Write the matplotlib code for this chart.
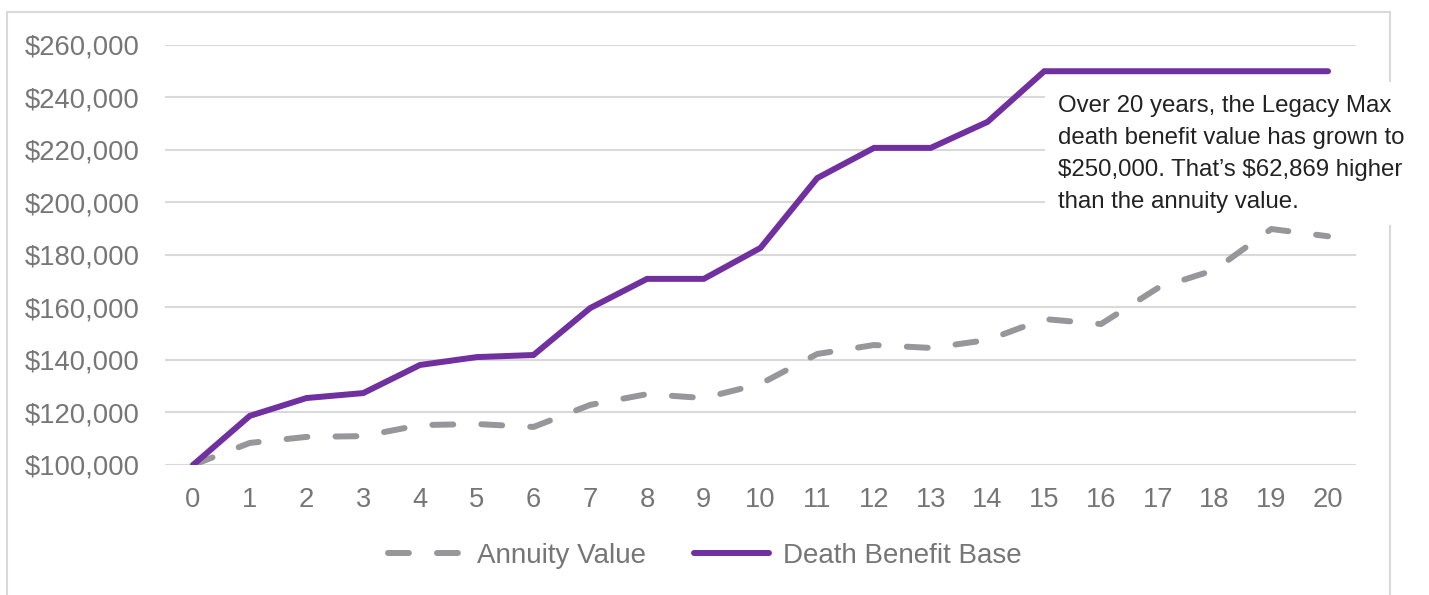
import matplotlib.pyplot as plt
from matplotlib.patches import Rectangle
from matplotlib.ticker import FuncFormatter

plt.rcParams['font.family'] = ['Liberation Sans', 'DejaVu Sans']
plt.rcParams['text.parse_math'] = False

years = list(range(21))
annuity_value = [100000, 108400, 110700, 111000, 115200, 115600, 114500, 122900, 127000, 125500,
                 130900, 142300, 145700, 144600, 147600, 155600, 153700, 167400, 174300, 189900, 187131]
death_benefit = [100000, 118700, 125500, 127400, 138100, 141100, 141900, 159800, 170900, 170900,
                 182700, 209300, 220800, 220800, 230700, 250000, 250000, 250000, 250000, 250000, 250000]
yticks = list(range(100000, 260001, 20000))
note = ("Over 20 years, the Legacy Max\n"
        "death benefit value has grown to\n"
        "$250,000. That\u2019s $62,869 higher\n"
        "than the annuity value.")

purple = "#7030A0"
grey_line = "#97979B"
label_grey = "#767676"
grid_grey = "#D9D9D9"

fig = plt.figure(figsize=(14.29, 5.95), dpi=100)
ax = fig.add_axes([0.1152, 0.2185, 0.834, 0.7059])

ax.plot(years, annuity_value, color=grey_line, lw=4.3, dashes=(3.5, 4.7),
        solid_capstyle="round", dash_capstyle="round", label="Annuity Value", zorder=3)
ax.plot(years, death_benefit, color=purple, lw=4.3, solid_capstyle="round",
        solid_joinstyle="miter", label="Death Benefit Base", zorder=4)

ax.set_xlim(-0.5, 20.5)
ax.set_ylim(100000, 260000)
ax.set_xticks(years)
ax.set_yticks(yticks)
ax.yaxis.set_major_formatter(FuncFormatter(lambda v, p: "${:,.0f}".format(v)))
ax.tick_params(axis="both", length=0, labelsize=19.7, colors=label_grey)
ax.tick_params(axis="x", pad=16)
ax.tick_params(axis="y", pad=18)
ax.grid(axis="y", color=grid_grey, lw=1.5)
ax.set_axisbelow(True)
for s in ax.spines.values():
    s.set_visible(False)

leg = fig.legend(loc="center", bbox_to_anchor=(705 / 1429, 1 - 556 / 595), ncol=2,
                 frameon=False, fontsize=20, handlelength=2.7, handletextpad=0.5,
                 columnspacing=1.75, labelcolor=label_grey)

# outer frame
fig.patches.append(Rectangle((7 / 1429, -0.05), (1390 - 7) / 1429, 1.05 - 12 / 595,
                             transform=fig.transFigure, fill=False, ec=grid_grey, lw=1.5,
                             zorder=1))
# white box behind the note
fig.patches.append(Rectangle((1045 / 1429, 1 - 225 / 595), 0.3, (225 - 82) / 595,
                             transform=fig.transFigure, fc="white", ec="none", zorder=5))
fig.text(1058 / 1429, 1 - 154 / 595, note, ha="left", va="center", fontsize=17.3,
         color="#222222", linespacing=1.6, zorder=6)

fig.savefig("out.png", dpi=100)
